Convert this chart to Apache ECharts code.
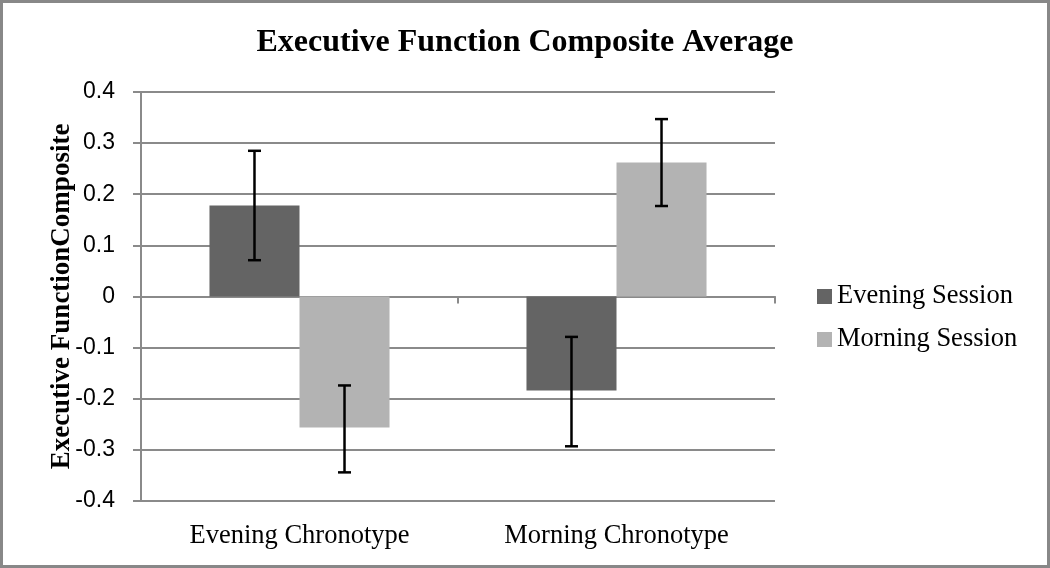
<!DOCTYPE html>
<html>
<head>
<meta charset="utf-8">
<script src="https://cdn.jsdelivr.net/npm/echarts@6/dist/echarts.min.js"></script>
<style>
html,body{margin:0;padding:0;background:#fff;}
#chart{width:1050px;height:568px;}
</style>
</head>
<body>
<div id="chart"></div>
<script>
const categories = ['Evening Chronotype', 'Morning Chronotype'];
const seriesNames = ['Evening Session', 'Morning Session'];
const eveningSession = [0.178, -0.184];
const morningSession = [-0.256, 0.262];
const eveningErrLow = [0.071, -0.293];
const eveningErrHigh = [0.285, -0.079];
const morningErrLow = [-0.344, 0.177];
const morningErrHigh = [-0.174, 0.347];
const yMin = -0.4, yMax = 0.4, yStep = 0.1;

const darkColor = '#646464';
const lightColor = '#b3b3b3';
const gridColor = '#8a8a8a';
const barFrac = 0.284;

function errData(lo, hi) {
  return categories.map((c, i) => [i, lo[i], hi[i]]);
}
function errRender(side) {
  return function (params, api) {
    const idx = api.value(0);
    const catW = api.size([1, 0])[0];
    const bw = catW * barFrac;
    const cx = api.coord([idx, 0])[0] + side * bw / 2;
    const yLo = api.coord([idx, api.value(1)])[1];
    const yHi = api.coord([idx, api.value(2)])[1];
    const cap = 6.5;
    const st = { stroke: '#000', lineWidth: 2.5 };
    return {
      type: 'group',
      children: [
        { type: 'line', shape: { x1: cx, y1: yLo, x2: cx, y2: yHi }, style: st },
        { type: 'line', shape: { x1: cx - cap, y1: yLo, x2: cx + cap, y2: yLo }, style: st },
        { type: 'line', shape: { x1: cx - cap, y1: yHi, x2: cx + cap, y2: yHi }, style: st }
      ]
    };
  };
}

const chart = echarts.init(document.getElementById('chart'));
chart.setOption({
  animation: false,
  backgroundColor: '#fff',
  graphic: [{
    type: 'rect',
    shape: { x: 1.5, y: 1.5, width: 1047, height: 565 },
    style: { fill: 'none', stroke: '#888', lineWidth: 3 },
    silent: true
  }],
  title: {
    text: 'Executive Function Composite Average',
    left: 'center',
    top: 22,
    textStyle: { fontFamily: 'Liberation Serif', fontWeight: 'bold', fontSize: 32, color: '#000' }
  },
  legend: {
    orient: 'vertical',
    left: 817,
    top: 283,
    padding: 0,
    itemWidth: 15,
    itemHeight: 15,
    itemGap: 16,
    data: seriesNames,
    textStyle: { fontFamily: 'Liberation Serif', fontSize: 26.5, color: '#000' },
    icon: 'rect'
  },
  grid: { left: 141, right: 275, top: 92, bottom: 67 },
  xAxis: [{
    type: 'category',
    data: categories,
    position: 'top',
    axisLine: { onZero: true, lineStyle: { color: gridColor, width: 2 } },
    axisTick: { show: true, inside: true, length: 7, lineStyle: { color: gridColor, width: 2 } },
    axisLabel: { show: false }
  }, {
    type: 'category',
    data: categories,
    position: 'bottom',
    axisLine: { show: false, onZero: false },
    axisTick: { show: false },
    axisLabel: { margin: 22, fontFamily: 'Liberation Serif', fontSize: 26.5, color: '#000' }
  }],
  yAxis: {
    type: 'value',
    min: yMin,
    max: yMax,
    interval: yStep,
    name: 'Executive FunctionComposite',
    nameLocation: 'middle',
    nameGap: 65,
    nameMoveOverlap: false,
    nameTextStyle: { fontFamily: 'Liberation Serif', fontWeight: 'bold', fontSize: 27, color: '#000' },
    axisLine: { show: true, lineStyle: { color: gridColor, width: 2 } },
    axisTick: { show: true, length: 8, lineStyle: { color: gridColor, width: 2 } },
    splitLine: { lineStyle: { color: gridColor, width: 2 } },
    axisLabel: {
      margin: 26,
      fontFamily: 'Liberation Sans',
      fontSize: 23,
      color: '#000',
      formatter: v => String(parseFloat(v.toFixed(1)))
    }
  },
  series: [{
    name: seriesNames[0],
    type: 'bar',
    xAxisIndex: 1,
    data: eveningSession,
    barWidth: (barFrac * 100) + '%',
    barGap: '0%',
    itemStyle: { color: darkColor },
    z: 2
  }, {
    name: seriesNames[1],
    type: 'bar',
    xAxisIndex: 1,
    data: morningSession,
    barWidth: (barFrac * 100) + '%',
    barGap: '0%',
    itemStyle: { color: lightColor },
    z: 2
  }, {
    type: 'custom',
    xAxisIndex: 1,
    data: errData(eveningErrLow, eveningErrHigh),
    renderItem: errRender(-1),
    z: 5,
    silent: true
  }, {
    type: 'custom',
    xAxisIndex: 1,
    data: errData(morningErrLow, morningErrHigh),
    renderItem: errRender(1),
    z: 5,
    silent: true
  }]
});
</script>
</body>
</html>
